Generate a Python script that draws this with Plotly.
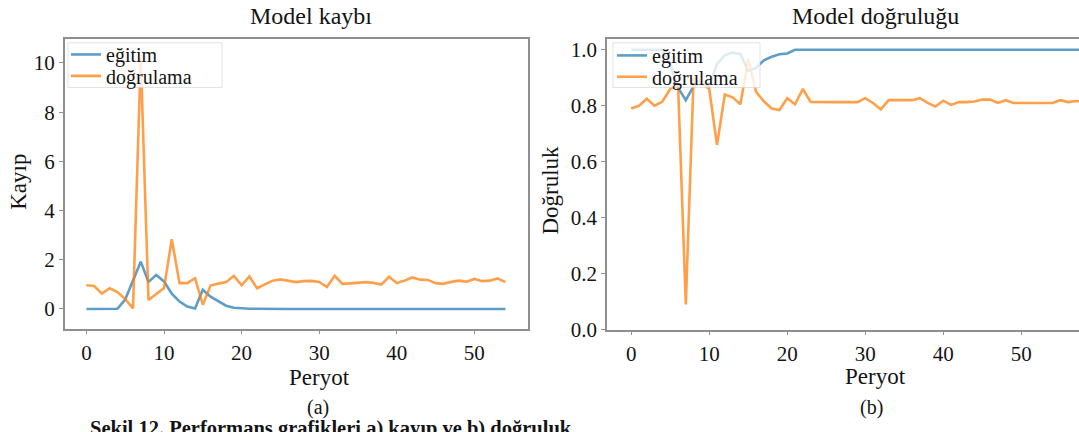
import plotly.graph_objects as go

# ---- training history: loss (left panel) ----
loss_epochs = list(range(0, 55))
loss_train = [0.0, 0.0, 0.0, 0.0, 0.01, 0.38, 1.15, 1.92, 1.1, 1.38,
              1.12, 0.62, 0.3, 0.1, 0.02, 0.78, 0.5, 0.3, 0.13, 0.05,
              0.02, 0.01, 0.01, 0.0, 0.0, 0.0, 0.0, 0.0, 0.0, 0.0,
              0.0, 0.0, 0.0, 0.0, 0.0, 0.0, 0.0, 0.0, 0.0, 0.0,
              0.0, 0.0, 0.0, 0.0, 0.0, 0.0, 0.0, 0.0, 0.0, 0.0,
              0.0, 0.0, 0.0, 0.0, 0.0]
loss_val = [0.96, 0.93, 0.62, 0.84, 0.69, 0.4, 0.02, 10.2, 0.36, 0.6,
            0.85, 2.83, 1.05, 1.05, 1.25, 0.17, 0.95, 1.03, 1.09, 1.35,
            0.96, 1.32, 0.84, 1.0, 1.15, 1.2, 1.15, 1.09, 1.13, 1.14,
            1.1, 0.89, 1.35, 1.02, 1.04, 1.05, 1.09, 1.06, 0.99, 1.31,
            1.05, 1.15, 1.28, 1.19, 1.18, 1.05, 1.02, 1.1, 1.15, 1.11,
            1.22, 1.13, 1.15, 1.24, 1.09]

# ---- training history: accuracy (right panel) ----
acc_epochs = list(range(0, 59))
acc_train = [1.0, 1.0, 1.0, 1.0, 1.0, 0.95, 0.865, 0.82, 0.87, 0.88,
             0.868, 0.95, 0.98, 0.99, 0.985, 0.924, 0.935, 0.962, 0.975, 0.984,
             0.987, 1.0, 1.0, 1.0, 1.0, 1.0, 1.0, 1.0, 1.0, 1.0,
             1.0, 1.0, 1.0, 1.0, 1.0, 1.0, 1.0, 1.0, 1.0, 1.0,
             1.0, 1.0, 1.0, 1.0, 1.0, 1.0, 1.0, 1.0, 1.0, 1.0,
             1.0, 1.0, 1.0, 1.0, 1.0, 1.0, 1.0, 1.0, 1.0]
acc_val = [0.79, 0.80, 0.825, 0.80, 0.815, 0.86, 0.88, 0.09, 0.9, 0.88,
           0.86, 0.66, 0.84, 0.83, 0.805, 0.968, 0.85, 0.816, 0.79, 0.785,
           0.827, 0.805, 0.86, 0.814, 0.813, 0.813, 0.813, 0.813, 0.813, 0.813,
           0.827, 0.81, 0.787, 0.82, 0.82, 0.82, 0.82, 0.827, 0.81, 0.797,
           0.818, 0.803, 0.813, 0.813, 0.815, 0.822, 0.822, 0.81, 0.82, 0.81,
           0.81, 0.81, 0.81, 0.81, 0.81, 0.82, 0.813, 0.817, 0.815]

x_ticks = [0, 10, 20, 30, 40, 50]
loss_ticks = [0, 2, 4, 6, 8, 10]
acc_ticks = [0.0, 0.2, 0.4, 0.6, 0.8, 1.0]
acc_tick_text = ["0.0", "0.2", "0.4", "0.6", "0.8", "1.0"]

W, H = 1079, 432
BLUE = "rgba(31,119,180,0.72)"
ORANGE = "rgba(255,127,14,0.75)"
SERIF = "Liberation Serif, Times New Roman, serif"
INK = "#141414"
SPINE = "#8f8f8f"


def px(x):
    return x / W


def py(y):
    return 1 - y / H


fig = go.Figure()
fig.add_trace(go.Scatter(x=loss_epochs, y=loss_train, mode="lines", name="eğitim",
                         line=dict(color=BLUE, width=2.6), xaxis="x", yaxis="y",
                         legend="legend"))
fig.add_trace(go.Scatter(x=loss_epochs, y=loss_val, mode="lines", name="doğrulama",
                         line=dict(color=ORANGE, width=2.6), xaxis="x", yaxis="y",
                         legend="legend2"))
fig.add_trace(go.Scatter(x=acc_epochs, y=acc_train, mode="lines", name="eğitim",
                         line=dict(color=BLUE, width=2.6), xaxis="x2", yaxis="y2",
                         legend="legend3"))
fig.add_trace(go.Scatter(x=acc_epochs, y=acc_val, mode="lines", name="doğrulama",
                         line=dict(color=ORANGE, width=2.6), xaxis="x2", yaxis="y2",
                         legend="legend4"))

axis_common = dict(showline=True, linecolor=SPINE, linewidth=1.6, showgrid=False,
                   zeroline=False, ticks="outside", ticklen=4, tickcolor=SPINE,
                   tickfont=dict(family=SERIF, size=21, color=INK))

legend_common = dict(xanchor="left", yanchor="middle", bgcolor="rgba(0,0,0,0)",
                     borderwidth=0, font=dict(family=SERIF, size=20, color=INK),
                     itemwidth=30, tracegroupgap=0)

fig.update_layout(
    width=W, height=H,
    margin=dict(l=0, r=0, t=0, b=0),
    paper_bgcolor="white", plot_bgcolor="white",
    showlegend=True,
    xaxis=dict(domain=[px(64.7), px(527.5)], range=[-2.8, 56.85], tickvals=x_ticks,
               anchor="y", mirror=True, **axis_common),
    yaxis=dict(domain=[py(338), py(40)], range=[-0.8, 10.98], tickvals=loss_ticks,
               anchor="x", mirror=True, **axis_common),
    xaxis2=dict(domain=[px(607), 1.0], range=[-3.1, 57.4], tickvals=x_ticks,
                anchor="y2", mirror=True, **axis_common),
    yaxis2=dict(domain=[py(339), py(40)], range=[0, 1.039], tickvals=acc_ticks,
                ticktext=acc_tick_text, anchor="x2", mirror=False, **axis_common),
    legend=dict(x=px(66), y=py(56), **legend_common),
    legend2=dict(x=px(66), y=py(78), **legend_common),
    legend3=dict(x=px(612), y=py(57), **legend_common),
    legend4=dict(x=px(612), y=py(79), **legend_common),
)

# translucent legend panels drawn over the lines, under the legend entries
for x0, x1 in [(68, 222), (613, 760)]:
    fig.add_shape(type="rect", xref="paper", yref="paper",
                  x0=px(x0), x1=px(x1), y0=py(90), y1=py(44),
                  fillcolor="rgba(255,255,255,0.8)",
                  line=dict(color="rgba(200,200,200,0.5)", width=1), layer="above")

labels = [
    ("Model kaybı", 311, 16, 24, 0),
    ("Model doğruluğu", 875, 16, 24, 0),
    ("Peryot", 319, 388, 23, 0),
    ("Peryot", 875, 387, 23, 0),
    ("Kayıp", 19, 187, 23, -90),
    ("Doğruluk", 551, 196, 23, -90),
    ("(a)", 318, 419, 20, 0),
    ("(b)", 871, 419, 20, 0),
]
for text, x, y, size, angle in labels:
    fig.add_annotation(text=text, x=px(x), y=py(y), xref="paper", yref="paper",
                       xanchor="center", yanchor="middle", showarrow=False,
                       textangle=angle, font=dict(family=SERIF, size=size, color=INK))

# figure caption, running off the bottom edge of the page
fig.add_annotation(text="<b>Şekil 12. Performans grafikleri a) kayıp ve b) doğruluk</b>",
                   x=px(88), y=py(427), xref="paper", yref="paper",
                   xanchor="left", yanchor="top", showarrow=False,
                   font=dict(family=SERIF, size=20.5, color=INK))

fig.write_html("out.html")
